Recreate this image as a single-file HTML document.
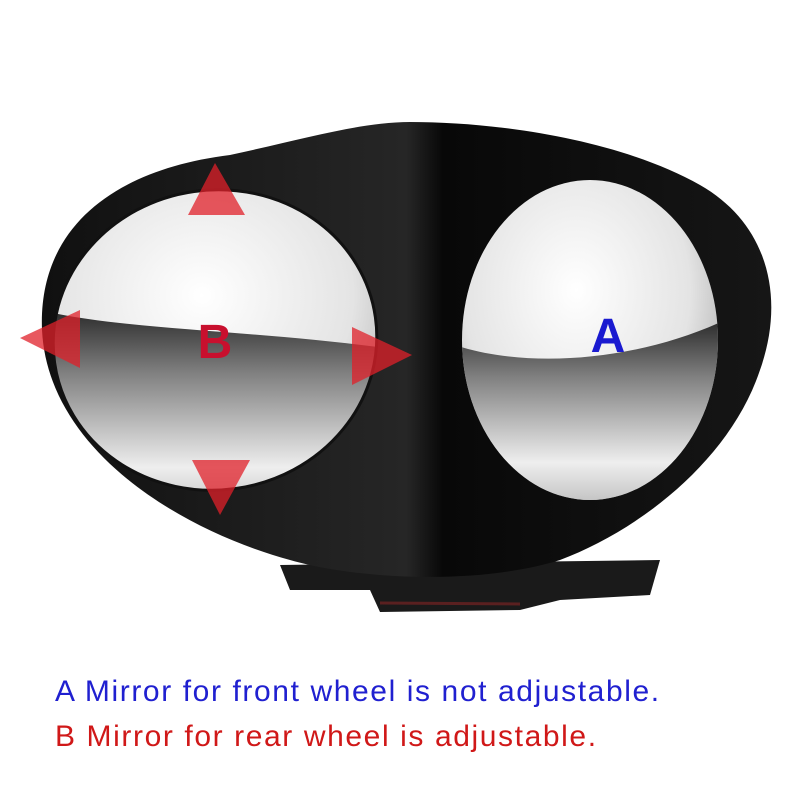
<!DOCTYPE html>
<html><head><style>
html,body{margin:0;padding:0;background:#fff;width:800px;height:800px;overflow:hidden}
.t{position:absolute;left:55px;font-family:"Liberation Sans",sans-serif;font-size:30px;letter-spacing:1.6px;white-space:nowrap}
</style></head><body>
<svg width="800" height="800" style="position:absolute;left:0;top:0">
<defs>
<radialGradient id="m1" cx="0.45" cy="0.35" r="0.7">
<stop offset="0" stop-color="#ffffff"/><stop offset="0.6" stop-color="#e4e4e4"/><stop offset="1" stop-color="#9a9a9a"/>
</radialGradient>
<linearGradient id="low" x1="0" y1="0" x2="0" y2="1">
<stop offset="0" stop-color="#2a2a2a"/><stop offset="0.3" stop-color="#808080"/><stop offset="0.75" stop-color="#eeeeee"/><stop offset="1" stop-color="#bbb"/>
</linearGradient>
<linearGradient id="body" x1="0" y1="0" x2="1" y2="0">
<stop offset="0" stop-color="#101010"/><stop offset="0.5" stop-color="#262626"/><stop offset="0.55" stop-color="#080808"/><stop offset="1" stop-color="#161616"/>
</linearGradient>
<clipPath id="cb"><ellipse cx="215" cy="340" rx="162" ry="150" transform="rotate(-8 215 340)"/></clipPath>
<clipPath id="ca"><ellipse cx="590" cy="340" rx="128" ry="160"/></clipPath>
</defs>
<path d="M280 565 L660 560 L650 595 L560 600 L520 610 L380 612 L370 590 L290 590 Z" fill="#1a1a1a"/>
<path d="M380 603 L520 604" stroke="#5a2020" stroke-width="3"/>
<path d="M42 330 C38 230 110 170 230 155 C300 140 360 122 410 122 C500 122 620 140 700 185 C770 225 785 300 760 370 C730 460 640 530 560 560 C480 585 360 580 290 560 C180 530 48 450 42 330 Z" fill="url(#body)"/>
<g clip-path="url(#cb)">
<rect x="40" y="180" width="360" height="330" fill="url(#m1)"/>
<path d="M40 310 C120 330 260 330 400 350 L400 520 L40 520 Z" fill="url(#low)"/>
</g>
<ellipse cx="215" cy="340" rx="162" ry="150" transform="rotate(-8 215 340)" fill="none" stroke="#111" stroke-width="3"/>
<g clip-path="url(#ca)">
<rect x="455" y="175" width="270" height="330" fill="url(#m1)"/>
<path d="M455 345 C530 370 640 360 725 320 L725 510 L455 510 Z" fill="url(#low)"/>
</g>
<g fill="#e0202a" fill-opacity="0.75">
<polygon points="215,163 245,215 188,215"/>
<polygon points="20,338 80,310 80,368"/>
<polygon points="412,355 352,327 352,385"/>
<polygon points="220,515 192,460 250,460"/>
</g>
<text x="215" y="358" font-family="Liberation Sans,sans-serif" font-weight="bold" font-size="48" fill="#c8102e" text-anchor="middle">B</text>
<text x="608" y="352" font-family="Liberation Sans,sans-serif" font-weight="bold" font-size="48" fill="#1a1ad0" text-anchor="middle">A</text>
</svg>
<div class="t" style="top:675px;color:#2020d0">A Mirror for front wheel is not adjustable.</div>
<div class="t" style="top:720px;color:#d01818">B Mirror for rear wheel is adjustable.</div>
</body></html>
